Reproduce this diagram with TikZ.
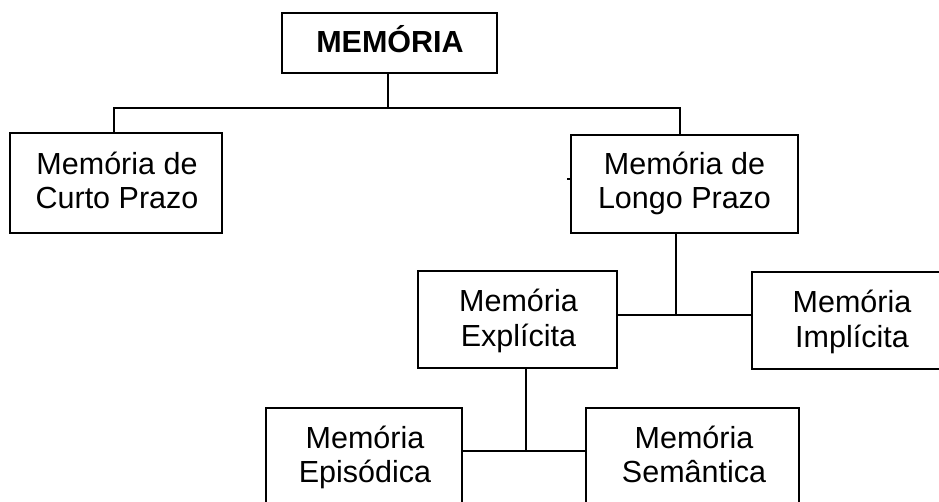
\documentclass[tikz,border=0pt]{standalone}
\usepackage{fontspec}
\setmainfont{Liberation Sans}
\begin{document}
\begin{tikzpicture}[x=1pt,y=-1pt,
  box/.style={draw, line width=1.8pt, inner sep=0pt, outer sep=0pt},
  lbl/.style={font=\fontsize{30.5}{34}\selectfont, anchor=base, inner sep=0pt},
  blbl/.style={font=\fontsize{30.5}{34}\selectfont\bfseries, anchor=base, inner sep=0pt},
  conn/.style={line width=1.8pt}]
\useasboundingbox (0,0) rectangle (939,502);
% boxes
\node[box, minimum width=215pt, minimum height=60pt] (mem) at (389.5,43) {};
\node[box, minimum width=212pt, minimum height=100pt] (curto) at (116,183) {};
\node[box, minimum width=227pt, minimum height=98pt] (longo) at (684.5,184) {};
\node[box, minimum width=199pt, minimum height=97pt] (expl) at (517.5,319.5) {};
\node[box, minimum width=200pt, minimum height=97pt] (impl) at (852,320.5) {};
\node[box, minimum width=196pt, minimum height=97pt] (epis) at (364,456.5) {};
\node[box, minimum width=213pt, minimum height=97pt] (sem) at (692.5,456.5) {};
% texts
\node[blbl] (tmem) at (390,53) {MEMÓRIA};
\node[lbl] (tcurto1) at (117,175) {Memória de};
\node[lbl] (tcurto2) at (117,209) {Curto Prazo};
\node[lbl] (tlongo1) at (684.5,175) {Memória de};
\node[lbl] (tlongo2) at (684.5,209) {Longo Prazo};
\node[lbl] (texpl1) at (518.5,312) {Memória};
\node[lbl] (texpl2) at (518.5,346) {Explícita};
\node[lbl] (timpl1) at (852,313) {Memória};
\node[lbl] (timpl2) at (852,347) {Implícita};
\node[lbl] (tepis1) at (365,448) {Memória};
\node[lbl] (tepis2) at (365,482) {Episódica};
\node[lbl] (tsem1) at (694,448) {Memória};
\node[lbl] (tsem2) at (694,482) {Semântica};
% junctions
\coordinate (j1) at (388,108);
\coordinate (c1) at (114,108);
\coordinate (c2) at (680,108);
\coordinate (j2) at (676,315);
\coordinate (j3) at (526,451);
\coordinate (stub) at (567,179);
% connectors
\draw[conn] (mem.south -| j1) -- (j1);
\draw[conn] (curto.north -| c1) -- (c1) -- (c2) -- (longo.north -| c2);
\draw[conn] (longo.south -| j2) -- (j2);
\draw[conn] (expl.east |- j2) -- (impl.west |- j2);
\draw[conn] (expl.south -| j3) -- (j3);
\draw[conn] (epis.east |- j3) -- (sem.west |- j3);
\draw[line width=1.5pt] (longo.west |- stub) -- (stub);
\end{tikzpicture}
\end{document}
